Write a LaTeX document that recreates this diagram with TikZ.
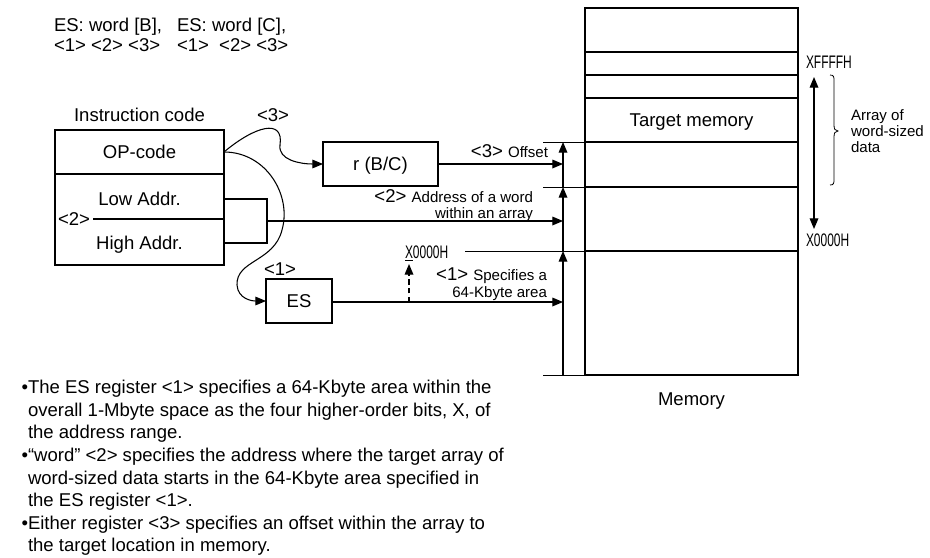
\documentclass[tikz,border=0pt]{standalone}
\usepackage{fontspec}
\setmainfont{Liberation Sans}
\usetikzlibrary{arrows.meta}
\newcommand{\bigf}{\fontsize{13.9pt}{16pt}\selectfont}
\newcommand{\smf}{\fontsize{11.3pt}{13pt}\selectfont}
\newcommand{\txf}{\fontsize{13.9pt}{16pt}\selectfont}
\newcommand{\addr}[1]{\scalebox{0.66}[1]{\fontsize{13.6pt}{15pt}\selectfont #1}}
\begin{document}
\begin{tikzpicture}[x=0.75pt,y=-0.75pt,
  every node/.style={inner sep=0pt, outer sep=0pt},
  cell/.style={draw, line width=1.2pt, text height=9.9pt, text depth=0pt, font=\bigf},
  arr/.style={-{Triangle[length=8pt,width=6.5pt]}, line width=0.9pt},
  darr/.style={{Triangle[length=8pt,width=6.5pt]}-{Triangle[length=8pt,width=6.5pt]}, line width=0.9pt},
  thinline/.style={line width=0.6pt},
  memline/.style={line width=1.4pt},
  lbl/.style={font=\bigf, anchor=base},
  bul/.style={font=\txf, anchor=base west},
]
\useasboundingbox (0,0) rectangle (930,557);

% top texts
\node[lbl, anchor=base west] (t1) at (54,31.6) {ES: word [B],};
\node[lbl, anchor=base west] (t2) at (177,31.6) {ES: word [C],};
\node[lbl, anchor=base west] (t3) at (54,51) {<1> <2> <3>};
\node[lbl, anchor=base west] (t4) at (177,51) {<1>\ \ <2> <3>};

% instruction code
\node[lbl] (ic) at (139.5,121.6) {Instruction code};
\node[cell, minimum width=126.75pt, minimum height=33pt] (opcode) at (139.5,152) {OP-code};
\node[cell, minimum width=126.75pt, minimum height=68.25pt] (addr) at (139.5,219.5) {};
\draw[line width=1.2pt] (93,219) -- (addr.east |- 0,219);
\node[lbl] (lo) at (139.5,205.6) {Low Addr.};
\node[lbl] (hi) at (139.5,249.6) {High Addr.};
\node[lbl, anchor=base west] (two) at (58,225.6) {<2>};

% registers
\node[lbl] (l3) at (273,121.6) {<3>};
\node[cell, minimum width=86.25pt, minimum height=33pt] (rbc) at (380.5,164) {r (B/C)};
\node[lbl] (l1) at (280,275.6) {<1>};
\node[cell, minimum width=49.5pt, minimum height=33pt] (es) at (299,301) {ES};

% curves from OP-code
\draw[arr, line width=0.8pt] (opcode.east) .. controls (255,126) and (284,118) .. (280,145)
   .. controls (278,160) and (300,164) .. (rbc.west);
\draw[arr, line width=0.8pt] (opcode.east) .. controls (266,152) and (292,195) .. (282,230)
   .. controls (274,262) and (236,260) .. (237,285)
   .. controls (238,299) and (252,301) .. (es.west);

% bracket from Low/High Addr
\coordinate (bl1) at (224,199);
\coordinate (bl2) at (267,199);
\coordinate (bl3) at (267,243);
\coordinate (bl4) at (224,243);
\draw[line width=0.9pt] (bl1) -- (bl2) -- (bl3) -- (bl4);
\coordinate (bm) at (267,221);

% memory
\node[draw, line width=1.4pt, minimum width=159.75pt, minimum height=275.25pt] (mem) at (691.5,191.5) {};
\foreach \yy in {52,75,98,142,187,251} \draw[memline] (585,\yy) -- (798,\yy);
\node[lbl] (tm) at (691.5,126.6) {Target memory};
\node[lbl] (memlbl) at (691.5,405.6) {Memory};

% horizontal arrow targets
\coordinate (o3) at (563,164);
\coordinate (o2) at (563,221);
\coordinate (o1) at (563,302);
\draw[arr] (rbc.east |- o3) -- (o3);
\draw[arr] (bm) -- (o2);
\draw[arr] (es.east |- o1) -- (o1);

% vertical arrows
\coordinate (v0) at (563,375);
\coordinate (v1) at (563,251);
\coordinate (v2) at (563,187);
\coordinate (v3) at (563,142);
\draw[arr] (v0) -- (v1);
\draw[arr] (v1) -- (v2);
\draw[arr] (v2) -- (v3);

% thin guide lines
\draw[thinline] (543,142) -- (585,142);
\draw[thinline] (543,187) -- (585,187);
\draw[thinline] (465,251) -- (585,251);
\draw[thinline] (543,375) -- (585,375);

% labels near arrows
\node[anchor=base east] (off) at (548,157.4) {\bigf<3> \smf Offset};
\node[anchor=base east] (ad1) at (533,202.4) {\bigf<2> \smf Address of a word};
\node[anchor=base east, font=\smf] (ad2) at (533,218.4) {within an array};
\node[anchor=base east] (sp1) at (547,280.4) {\bigf<1> \smf Specifies a};
\node[anchor=base east, font=\smf] (sp2) at (547,297.4) {64-Kbyte area};

% X0000H left with dashed arrow
\node[anchor=base west] (xl) at (405,258.5) {\addr{\underline{X}0000H}};
\coordinate (dsb) at (409,302);
\coordinate (dst) at (409,264);
\draw[arr, dashed, dash pattern=on 4pt off 2.5pt] (dsb) -- (dst);

% right side labels
\node[anchor=base west] (xf) at (806,68.5) {\addr{XFFFFH}};
\node[anchor=base west] (x0) at (806,246.5) {\addr{X0000H}};
\coordinate (da1) at (814,77);
\coordinate (da2) at (814,229);
\draw[darr] (da1) -- (da2);
\draw[line width=0.6pt] (830,75) .. controls (834,75) and (834,77) .. (834,81) -- (834,125)
  .. controls (834,129) and (835,131) .. (838,131)
  .. controls (835,131) and (834,133) .. (834,137) -- (834,179)
  .. controls (834,183) and (834,185) .. (830,185);
\node[anchor=base west, font=\smf] (ar1) at (851,120.4) {Array of};
\node[anchor=base west, font=\smf] (ar2) at (851,136.4) {word-sized};
\node[anchor=base west, font=\smf] (ar3) at (851,152.4) {data};

% bullets
\node[anchor=base east, font=\txf] (b1) at (28,393.6) {•};
\node[bul] (l1a) at (28,393.6) {The ES register <1> specifies a 64-Kbyte area within the};
\node[bul] (l1b) at (28,416.2) {overall 1-Mbyte space as the four higher-order bits, X, of};
\node[bul] (l1c) at (28,438.8) {the address range.};
\node[anchor=base east, font=\txf] (b2) at (28,461.4) {•};
\node[bul] (l2a) at (28,461.4) {“word” <2> specifies the address where the target array of};
\node[bul] (l2b) at (28,484) {word-sized data starts in the 64-Kbyte area specified in};
\node[bul] (l2c) at (28,506.6) {the ES register <1>.};
\node[anchor=base east, font=\txf] (b3) at (28,529.2) {•};
\node[bul] (l3a) at (28,529.2) {Either register <3> specifies an offset within the array to};
\node[bul] (l3b) at (28,551.8) {the target location in memory.};
\end{tikzpicture}
\end{document}
